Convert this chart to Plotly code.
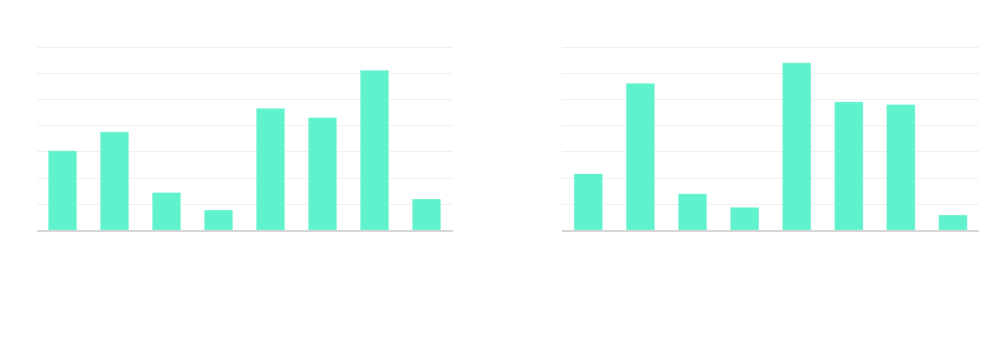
import plotly.graph_objects as go
from plotly.subplots import make_subplots

# Category slots shared by both panels
categories = ["1", "2", "3", "4", "5", "6", "7", "8"]

# Series values for each panel
left_values = [30.5, 37.7, 14.5, 7.8, 46.7, 43.2, 61.3, 12.0]
right_values = [21.7, 56.3, 14.0, 8.8, 64.2, 49.2, 48.2, 5.9]

# Grid line positions on the value axis
grid_values = [0, 10, 20, 30, 40, 50, 60, 70]

BAR_COLOR = "#5ff2cd"

fig = make_subplots(rows=1, cols=2, horizontal_spacing=0.1)

for col, vals in ((1, left_values), (2, right_values)):
    fig.add_trace(
        go.Bar(
            x=categories,
            y=vals,
            marker=dict(color=BAR_COLOR,
                        line=dict(color="rgba(255,255,255,0.35)", width=1)),
            hoverinfo="x+y",
            showlegend=False,
        ),
        row=1, col=col,
    )

W, H = 990, 345
Y_TOP = 72                       # headroom so the top grid line sits inside the plot
px_per_unit = (230.3 - 47.5) / 70
left_dom = [36.5 / W, 452.5 / W]
right_dom = [562.3 / W, 979.0 / W]
y_dom = [(H - 230.3) / H, (H - 230.3 + Y_TOP * px_per_unit) / H]

axis_common = dict(showticklabels=False, ticks="")
y_common = dict(domain=y_dom, range=[0, Y_TOP], tickmode="array",
                tickvals=grid_values, showgrid=True, gridcolor="#f0f0f0",
                gridwidth=1, zeroline=False, **axis_common)

fig.update_layout(
    width=W,
    height=H,
    margin=dict(l=0, r=0, t=0, b=0),
    paper_bgcolor="white",
    plot_bgcolor="white",
    bargap=0.45,
    xaxis=dict(domain=left_dom, showgrid=False, showline=True,
               linecolor="#d6d6d6", linewidth=2, **axis_common),
    xaxis2=dict(domain=right_dom, showgrid=False, showline=True,
                linecolor="#d6d6d6", linewidth=2, **axis_common),
    yaxis=y_common,
    yaxis2=y_common,
)

fig.write_html("out.html")
